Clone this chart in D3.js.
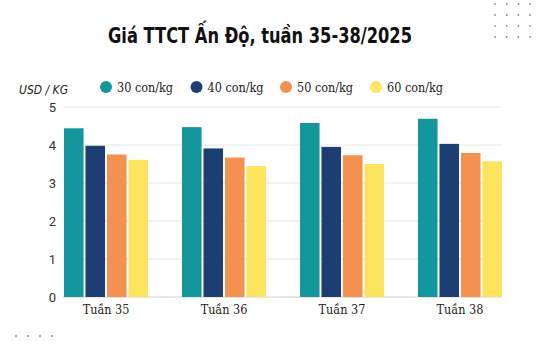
<!DOCTYPE html>
<html><head><meta charset="utf-8">
<script src="https://cdn.jsdelivr.net/npm/d3@7"></script>
<style>body{margin:0;background:#fff}svg{display:block}</style>
</head><body>
<script>
const categories = ["Tuần 35","Tuần 36","Tuần 37","Tuần 38"];
const seriesNames = ["30 con/kg","40 con/kg","50 con/kg","60 con/kg"];
const s30 = [4.44,4.47,4.58,4.69];
const s40 = [3.98,3.91,3.95,4.03];
const s50 = [3.75,3.67,3.73,3.79];
const s60 = [3.61,3.45,3.50,3.57];
const yTicks = [0,1,2,3,4,5];
const colors = ["#13979c","#1c3e73","#f4914f","#fde45e"];
const series = [s30,s40,s50,s60];

const W=542,H=344;
const svg=d3.select("body").append("svg").attr("width",W).attr("height",H);
const x=d3.scaleBand().domain(categories).range([64,502]).paddingInner(0.288).paddingOuter(0);
const xs=d3.scaleBand().domain(seriesNames).range([0,x.bandwidth()]).paddingInner(0.09);
const y=d3.scaleLinear().domain([0,5]).range([297,107]);

// decorative dots
const dg=svg.append("g").attr("fill","#8a8a8a");
for(let i=0;i<4;i++)for(let j=0;j<4;j++)dg.append("circle").attr("cx",495+i*11.7).attr("cy",4+j*11).attr("r",0.9);
for(let i=0;i<4;i++)dg.append("circle").attr("cx",16+i*12).attr("cy",336).attr("r",0.9);

svg.append("text").attr("x",260).attr("y",43).attr("text-anchor","middle")
  .attr("font-family","DejaVu Sans Condensed, DejaVu Sans").attr("font-weight","bold").attr("font-size",21)
  .attr("textLength",304).attr("lengthAdjust","spacingAndGlyphs")
  .attr("fill","#111").text("Giá TTCT Ấn Độ, tuần 35-38/2025");

svg.append("text").attr("x",19).attr("y",94).attr("font-family","DejaVu Sans Condensed, DejaVu Sans")
  .attr("font-style","italic").attr("font-size",13).attr("textLength",49).attr("lengthAdjust","spacingAndGlyphs")
  .attr("fill","#222").text("USD / KG");

// grid
const g=svg.append("g");
g.selectAll("line.grid").data(yTicks).enter().append("line")
  .attr("x1",63).attr("x2",501).attr("y1",d=>y(d)).attr("y2",d=>y(d))
  .attr("stroke",d=>d===0?"#d0d0d0":"#e6e6e6").attr("stroke-width",1);

const ya=d3.axisLeft(y).tickValues(yTicks).tickSize(0).tickPadding(0).tickFormat(d3.format("d"));
svg.append("g").attr("transform","translate(56,0)").call(ya)
  .call(a=>a.select(".domain").remove())
  .call(a=>a.selectAll("text").attr("font-family","Roboto, sans-serif").attr("font-size",13).attr("fill","#333"));

// bars
categories.forEach((c,ci)=>{
  series.forEach((s,si)=>{
    svg.append("rect").attr("x",x(c)+xs(seriesNames[si])).attr("width",xs.bandwidth())
      .attr("y",y(s[ci])).attr("height",y(0)-y(s[ci])).attr("fill",colors[si]);
  });
});

const xa=d3.axisBottom(x).tickSize(0).tickPadding(8);
svg.append("g").attr("transform","translate(0,297)").call(xa)
  .call(a=>a.select(".domain").remove())
  .call(a=>a.selectAll("text").attr("font-family","DejaVu Serif Condensed, DejaVu Serif").attr("font-size",12.5).attr("fill","#222"));

// legend
const lx=[106,196.5,286,376];
const lg=svg.append("g");
seriesNames.forEach((n,i)=>{
  lg.append("circle").attr("cx",lx[i]).attr("cy",87).attr("r",6).attr("fill",colors[i]);
  lg.append("text").attr("x",lx[i]+11).attr("y",91.5).attr("font-family","DejaVu Serif Condensed, DejaVu Serif")
    .attr("font-size",12.5).attr("fill","#222").text(n);
});
</script>
</body></html>
